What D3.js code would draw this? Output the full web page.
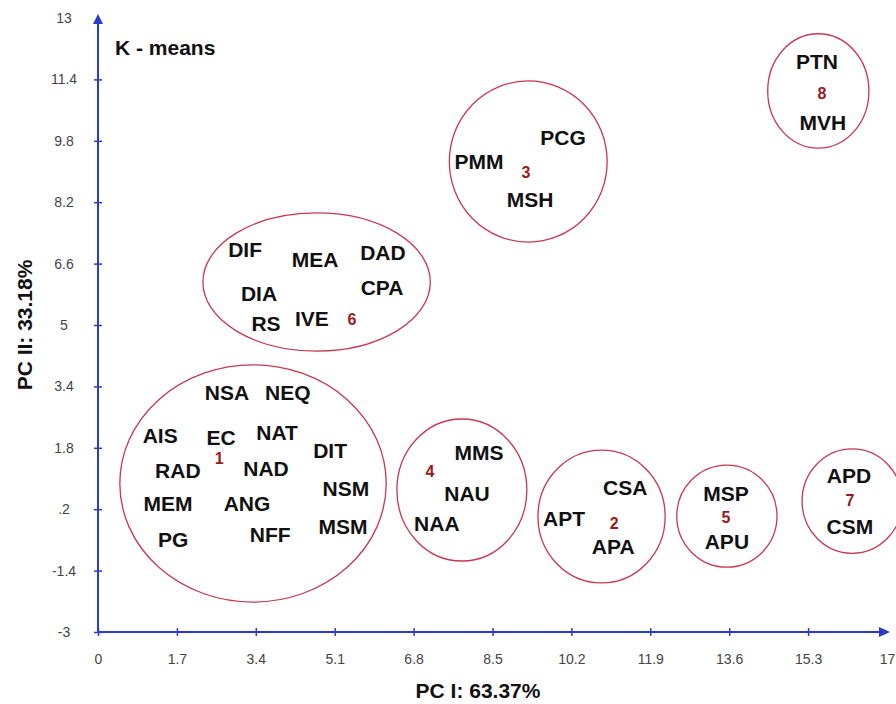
<!DOCTYPE html>
<html>
<head>
<meta charset="utf-8">
<script src="https://cdn.jsdelivr.net/npm/d3@7"></script>
<style>
  body { margin: 0; background: #fff; }
  svg { display: block; font-family: Arial, "Liberation Sans", sans-serif; }
</style>
</head>
<body>
<script>
// ticks as printed on the figure
const xTicks = [0, 1.7, 3.4, 5.1, 6.8, 8.5, 10.2, 11.9, 13.6, 15.3, 17];
const xTickLabels = ["0", "1.7", "3.4", "5.1", "6.8", "8.5", "10.2", "11.9", "13.6", "15.3", "17"];
const yTicks = [-3, -1.4, 0.2, 1.8, 3.4, 5, 6.6, 8.2, 9.8, 11.4, 13];
const yTickLabels = ["-3", "-1.4", ".2", "1.8", "3.4", "5", "6.6", "8.2", "9.8", "11.4", "13"];

// K-means clusters: id, centre, radii (data units), position of the cluster number
const clusterIds = [1, 2, 3, 4, 5, 6, 7, 8];
const clusterCx  = [3.34, 10.85, 9.27, 7.84, 13.55, 4.71, 16.25, 15.52];
const clusterCy  = [0.87, 0.01, 9.26, 0.70, 0.02, 6.12, 0.41, 11.10];
const clusterRx  = [2.87, 1.37, 1.70, 1.40, 1.08, 2.45, 1.08, 1.09];
const clusterRy  = [3.09, 1.73, 2.10, 1.85, 1.33, 1.80, 1.36, 1.49];
const numberX    = [2.61, 11.12, 9.22, 7.15, 13.53, 5.47, 16.20, 15.60];
const numberY    = [1.53, -0.16, 8.99, 1.20, 0.00, 5.16, 0.44, 11.05];

// variables (scores on PC I / PC II)
const varNames = ["NSA", "NEQ", "AIS", "EC", "NAT", "DIT", "RAD", "NAD", "NSM", "MEM", "ANG", "PG", "NFF", "MSM",
                  "DIF", "MEA", "DAD", "DIA", "CPA", "RS", "IVE",
                  "MMS", "NAU", "NAA",
                  "CSA", "APT", "APA",
                  "MSP", "APU",
                  "APD", "CSM",
                  "PCG", "PMM", "MSH",
                  "PTN", "MVH"];
const varPC1 = [2.78, 4.09, 1.34, 2.65, 3.86, 5.00, 1.72, 3.62, 5.34, 1.51, 3.21, 1.62, 3.71, 5.28,
                3.17, 4.68, 6.14, 3.47, 6.12, 3.62, 4.61,
                8.21, 7.95, 7.30,
                11.36, 10.04, 11.10,
                13.53, 13.55,
                16.18, 16.20,
                10.02, 8.21, 9.31,
                15.49, 15.62];
const varPC2 = [3.25, 3.23, 2.11, 2.08, 2.21, 1.72, 1.22, 1.25, 0.75, 0.34, 0.36, -0.58, -0.47, -0.24,
                6.98, 6.72, 6.90, 5.81, 5.99, 5.05, 5.18,
                1.69, 0.62, -0.16,
                0.78, -0.03, -0.76,
                0.62, -0.63,
                1.09, -0.24,
                9.90, 9.27, 8.26,
                11.88, 10.29];

const width = 896, height = 704;
const axisColor = "#2a3ccc";
const ringColor = "#c8384e";
const numColor = "#9a1a1a";

const x = d3.scaleLinear().domain([0, 17]).range([98, 887]);
const y = d3.scaleLinear().domain([-3, 13]).range([632, 18]);

const svg = d3.select("body").append("svg")
  .attr("width", width)
  .attr("height", height);

// ellipses
const clusters = clusterIds.map((id, i) => ({
  id, cx: clusterCx[i], cy: clusterCy[i], rx: clusterRx[i], ry: clusterRy[i], nx: numberX[i], ny: numberY[i]
}));

svg.append("g")
  .selectAll("ellipse")
  .data(clusters)
  .join("ellipse")
    .attr("cx", d => x(d.cx))
    .attr("cy", d => y(d.cy))
    .attr("rx", d => x(d.cx + d.rx) - x(d.cx))
    .attr("ry", d => y(d.cy) - y(d.cy + d.ry))
    .attr("fill", "none")
    .attr("stroke", ringColor)
    .attr("stroke-width", 1.3);

// x axis
const xAxis = svg.append("g")
  .attr("transform", `translate(0,${y(-3)})`)
  .call(d3.axisBottom(x).tickValues(xTicks).tickFormat((d, i) => xTickLabels[i]).tickSize(8).tickPadding(14));
xAxis.select(".domain").remove();
xAxis.selectAll(".tick line")
  .attr("y1", -4).attr("y2", 4)
  .attr("stroke", axisColor).attr("stroke-width", 1.5)
  .filter(d => d === 17).remove();
xAxis.selectAll(".tick text")
  .attr("fill", "#444")
  .attr("font-size", 14)
  .attr("font-family", "Arial, 'Liberation Sans', sans-serif");

// y axis
const yAxis = svg.append("g")
  .attr("transform", `translate(${x(0)},0)`)
  .call(d3.axisLeft(y).tickValues(yTicks).tickFormat((d, i) => yTickLabels[i]).tickSize(8).tickPadding(20));
yAxis.select(".domain").remove();
yAxis.selectAll(".tick line")
  .attr("x1", -4).attr("x2", 4)
  .attr("stroke", axisColor).attr("stroke-width", 1.5)
  .filter(d => d === 13).remove();
yAxis.selectAll(".tick text")
  .attr("fill", "#444")
  .attr("font-size", 14)
  .attr("text-anchor", "middle")
  .attr("x", -34)
  .attr("font-family", "Arial, 'Liberation Sans', sans-serif");

// axis lines with arrow heads
svg.append("line")
  .attr("x1", x(0)).attr("x2", x(17) - 4)
  .attr("y1", y(-3)).attr("y2", y(-3))
  .attr("stroke", axisColor).attr("stroke-width", 2);
svg.append("line")
  .attr("x1", x(0)).attr("x2", x(0))
  .attr("y1", y(-3)).attr("y2", y(13) + 4)
  .attr("stroke", axisColor).attr("stroke-width", 2);
svg.append("path")
  .attr("d", `M${x(17) - 8},${y(-3) - 5}L${x(17) + 3},${y(-3)}L${x(17) - 8},${y(-3) + 5}Z`)
  .attr("fill", axisColor);
svg.append("path")
  .attr("d", `M${x(0) - 5},${y(13) + 6}L${x(0)},${y(13) - 4}L${x(0) + 5},${y(13) + 6}Z`)
  .attr("fill", axisColor);

// variable labels
const vars = varNames.map((name, i) => ({ name, pc1: varPC1[i], pc2: varPC2[i] }));
svg.append("g")
  .selectAll("text")
  .data(vars)
  .join("text")
    .attr("x", d => x(d.pc1))
    .attr("y", d => y(d.pc2))
    .attr("dy", "0.36em")
    .attr("text-anchor", "middle")
    .attr("font-size", 21)
    .attr("font-weight", "bold")
    .attr("fill", "#111")
    .text(d => d.name);

// cluster numbers
svg.append("g")
  .selectAll("text")
  .data(clusters)
  .join("text")
    .attr("x", d => x(d.nx))
    .attr("y", d => y(d.ny))
    .attr("dy", "0.36em")
    .attr("text-anchor", "middle")
    .attr("font-size", 16)
    .attr("font-weight", "bold")
    .attr("fill", numColor)
    .text(d => d.id);

// titles
svg.append("text")
  .attr("x", 115).attr("y", 55)
  .attr("font-size", 21)
  .attr("font-weight", "bold")
  .attr("fill", "#111")
  .text("K - means");

svg.append("text")
  .attr("x", 478).attr("y", 698)
  .attr("text-anchor", "middle")
  .attr("font-size", 21)
  .attr("font-weight", "bold")
  .attr("fill", "#111")
  .text("PC I: 63.37%");

svg.append("text")
  .attr("transform", `translate(32,${325}) rotate(-90)`)
  .attr("text-anchor", "middle")
  .attr("font-size", 21)
  .attr("font-weight", "bold")
  .attr("fill", "#111")
  .text("PC II: 33.18%");
</script>
</body>
</html>
